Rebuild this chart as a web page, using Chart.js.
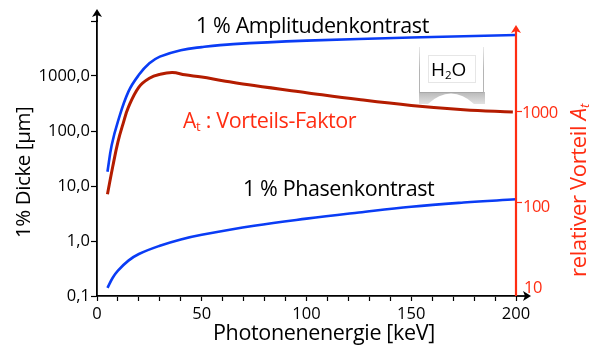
<!DOCTYPE html>
<html><head><meta charset="utf-8">
<style>html,body{margin:0;padding:0;background:#fff}#w{position:relative;width:595px;height:347px}</style>
<script src="https://cdn.jsdelivr.net/npm/chart.js@4/dist/chart.umd.min.js"></script>
</head><body><div id="w"><canvas id="c" width="595" height="347"></canvas></div>
<script>
const ampEnergy = [5,7,10,15,20,25,30,40,50,65,100,150,200];
const ampValues = [18.2,55,150,520,1050,1700,2250,2950,3350,3800,4400,5000,5565];
const phaseEnergy = [5,7.5,10,15,20,30,40,50,75,100,125,150,175,200];
const phaseValues = [0.14,0.215,0.29,0.44,0.58,0.82,1.07,1.3,1.9,2.55,3.3,4.2,5,5.73];
const advEnergy = [5,7.5,10,12.5,15,20,25,30,36,42,50,60,75,100,125,150,175,198.5];
const advValues = [125,250,470,750,1130,1880,2350,2590,2710,2560,2420,2210,1950,1630,1370,1180,1060,1000];
const leftTicks = [0.1,1,10,100,1000,10000];
const leftLabels = ['0,1','1,0','10,0','100,0','1000,0',''];
const rightTicks = [10,100,1000];
const xTickLabelStep = 50;

const FONT = '"Open Sans"';
const BLUE = '#0a3cf5', DARK = '#b41c00', RED = '#ff2d12';
const pair = (xs, ys) => xs.map((x, i) => ({x, y: ys[i]}));

function text(ctx, runs, x, y, color) {
  ctx.fillStyle = color; ctx.textAlign = 'left'; ctx.textBaseline = 'alphabetic';
  let cx = x;
  for (const r of runs) {
    ctx.font = (r.style || '') + ' ' + r.size + 'px ' + FONT;
    ctx.letterSpacing = (r.ls || 0) + 'px';
    ctx.fillText(r.t, cx, y + (r.dy || 0));
    cx += ctx.measureText(r.t).width;
  }
  ctx.letterSpacing = '0px';
}
function arrow(ctx, tx, ty, dir, color) {
  ctx.fillStyle = color; ctx.beginPath(); ctx.moveTo(tx, ty);
  if (dir === 'up') { ctx.lineTo(tx - 5, ty + 8); ctx.lineTo(tx, ty + 6); ctx.lineTo(tx + 5, ty + 8); }
  else { ctx.lineTo(tx - 8, ty - 5); ctx.lineTo(tx - 6, ty); ctx.lineTo(tx - 8, ty + 5); }
  ctx.closePath(); ctx.fill();
}
const decor = {
  id: 'decor',
  beforeDatasetsDraw(chart) {
    const ctx = chart.ctx;
    ctx.save();
    const g = ctx.createLinearGradient(0, 92, 0, 104);
    g.addColorStop(0, '#b8b8b8'); g.addColorStop(1, '#e2e2e2');
    ctx.fillStyle = g;
    ctx.beginPath(); ctx.moveTo(419, 92); ctx.lineTo(485, 92); ctx.lineTo(485, 104);
    ctx.lineTo(474, 104); ctx.quadraticCurveTo(463, 93.5, 451, 93.5); ctx.quadraticCurveTo(439, 93.5, 428, 104);
    ctx.lineTo(419, 104); ctx.closePath(); ctx.fill();
    const s = ctx.createLinearGradient(0, 47, 0, 70);
    s.addColorStop(0, '#e8e8e8'); s.addColorStop(1, '#b4b4b4');
    ctx.strokeStyle = s; ctx.lineWidth = 1;
    ctx.beginPath(); ctx.moveTo(419.5, 47); ctx.lineTo(419.5, 92); ctx.moveTo(483.5, 47); ctx.lineTo(483.5, 92); ctx.stroke();
    ctx.strokeStyle = '#a8a8a8';
    ctx.beginPath(); ctx.moveTo(419.5, 92.5); ctx.lineTo(483.5, 92.5); ctx.stroke();
    ctx.strokeStyle = '#e6e6e6'; ctx.strokeRect(428.5, 55.5, 47, 27);
    text(ctx, [{t: 'H', size: 19}, {t: '2', size: 11.5, dy: 3}, {t: 'O', size: 19}], 431, 76, '#000');
    ctx.restore();
  },
  afterDraw(chart) {
    const ctx = chart.ctx, a = chart.chartArea, R = chart.scales.yR;
    ctx.save();
    ctx.strokeStyle = '#000'; ctx.lineWidth = 1.8;
    ctx.beginPath(); ctx.moveTo(a.left, a.top + 1); ctx.lineTo(a.left, 14); ctx.stroke();
    ctx.beginPath(); ctx.moveTo(a.right, a.bottom); ctx.lineTo(526, a.bottom); ctx.stroke();
    arrow(ctx, a.left, 9, 'up', '#000');
    arrow(ctx, 531, a.bottom, 'right', '#000');
    ctx.strokeStyle = RED; ctx.lineWidth = 2.2;
    ctx.beginPath(); ctx.moveTo(a.right, a.bottom); ctx.lineTo(a.right, 30); ctx.stroke();
    arrow(ctx, a.right, 25, 'up', RED);
    const offs = {10: -1, 100: 9, 1000: 6};
    const xs = {10: 524, 100: 523, 1000: 522};
    rightTicks.forEach(v => text(ctx, [{t: String(v), size: 16.5, ls: -0.5}], xs[v], R.getPixelForValue(v) + offs[v], RED));
    text(ctx, [{t: '1 % Amplitudenkontrast', size: 21.5, ls: -0.4}], 196, 33, '#000');
    text(ctx, [{t: '1 % Phasenkontrast', size: 21.5, ls: -0.4}], 243, 195.5, '#000');
    text(ctx, [{t: 'A', size: 21, ls: -0.3}, {t: 't', size: 13, dy: 3}, {t: ' : Vorteils-Faktor', size: 21.5, ls: -0.4}], 183, 127.5, RED);
    text(ctx, [{t: 'Photonenenergie [keV]', size: 21.5, ls: -0.35}], 213, 339.5, '#000');
    ctx.save(); ctx.translate(30, 238); ctx.rotate(-Math.PI / 2);
    text(ctx, [{t: '1% Dicke [µm]', size: 20.5, ls: -0.4}], 0, 0, '#000'); ctx.restore();
    ctx.save(); ctx.translate(586, 277); ctx.rotate(-Math.PI / 2);
    text(ctx, [{t: 'relativer Vorteil ', size: 22, ls: -0.35}, {t: 'A', size: 22, style: 'italic'}, {t: 't', size: 13, style: 'italic', dy: 3}], 0, 0, RED); ctx.restore();
    ctx.restore();
  }
};
const line = (label, data, axis, color, width) => ({label, data, yAxisID: axis, borderColor: color, borderWidth: width, pointRadius: 0, tension: 0.4});
new Chart(document.getElementById('c'), {
  type: 'line',
  data: { datasets: [
    line('1 % Amplitudenkontrast', pair(ampEnergy, ampValues), 'yL', BLUE, 2.6),
    line('1 % Phasenkontrast', pair(phaseEnergy, phaseValues), 'yL', BLUE, 2.6),
    line('At : Vorteils-Faktor', pair(advEnergy, advValues), 'yR', DARK, 3)
  ]},
  options: {
    responsive: false, animation: false, events: [],
    layout: {padding: {left: 0, right: 0, top: 21, bottom: 0}},
    plugins: {legend: {display: false}, tooltip: {enabled: false}},
    scales: {
      x: {
        type: 'linear', position: 'bottom', min: 0, max: 200,
        afterFit: s => { s.height = 51; },
        border: {color: '#000', width: 1.8},
        grid: {drawOnChartArea: false, tickLength: 5, tickColor: '#000', tickWidth: 1.2},
        ticks: {stepSize: 10, autoSkip: false, maxRotation: 0, padding: 3, color: '#000',
          font: {family: FONT, size: 16.5},
          callback: v => v % xTickLabelStep === 0 ? String(v) : ''}
      },
      yL: {
        type: 'logarithmic', position: 'left', min: 0.1, max: 10000,
        afterFit: s => { s.width = 97; },
        afterBuildTicks: s => { s.ticks = leftTicks.map(value => ({value})); },
        border: {color: '#000', width: 1.8},
        grid: {drawOnChartArea: false, tickLength: 6, tickColor: '#000', tickWidth: 1.2},
        ticks: {autoSkip: false, padding: 1, color: '#000', font: {family: FONT, size: 16.5},
          callback: v => leftLabels[leftTicks.indexOf(v)]}
      },
      yR: {
        type: 'logarithmic', position: 'right', min: 9.5, max: 10000,
        afterFit: s => { s.width = 79; },
        afterBuildTicks: s => { s.ticks = rightTicks.map(value => ({value})); },
        border: {display: false},
        grid: {drawOnChartArea: false, tickLength: 6, tickWidth: 1.2,
          tickColor: c => c.tick && c.tick.value === 10 ? 'rgba(0,0,0,0)' : RED},
        ticks: {display: false, autoSkip: false}
      }
    }
  },
  plugins: [decor]
});
</script></body></html>
